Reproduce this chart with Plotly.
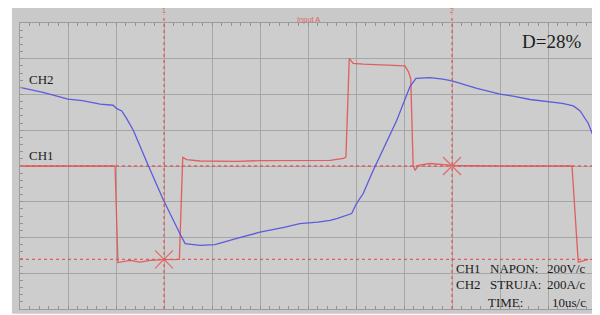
import plotly.graph_objects as go

# time in microseconds (10 us/div), amplitude in screen divisions
ch2_t = [0, 5, 10, 13, 16.7, 19.4, 20.1, 21.2, 22.2, 23.6, 26.7, 29.9, 33.3, 34.4, 37.5,
         40.6, 45, 50, 55, 58.3, 62, 64.6, 66, 68.1, 69.1, 70.1, 71.5, 73.6, 78.5, 81.25,
         82.5, 85.4, 88.1, 90, 95, 100, 103, 106.25, 110.4, 113, 115.3, 116.7, 118.4, 119.6]
ch2_v = [2.20, 2.05, 1.87, 1.83, 1.73, 1.70, 1.61, 1.54, 1.33, 1.00, 0.02, -0.96, -1.89, -2.17, -2.22,
         -2.20, -2.03, -1.85, -1.72, -1.61, -1.57, -1.52, -1.47, -1.38, -1.33, -1.05, -0.77, -0.12, 1.28, 2.22,
         2.45, 2.47, 2.43, 2.38, 2.18, 2.01, 1.95, 1.86, 1.80, 1.75, 1.68, 1.54, 1.19, 0.77]

ch1_t = [0, 19.8, 20.4, 21.9, 22.9, 25, 27.1, 30.2, 32.6, 33.2, 33.9, 34.7, 37.5, 45, 50, 58.3,
         64.6, 67.4, 67.9, 68.6, 69.4, 71.5, 78.5, 80.2, 80.9, 81.4, 81.9, 82.3, 83.0, 85.4, 90,
         100, 115.0, 116.3, 118.4]
ch1_v = [0, 0, -2.70, -2.66, -2.64, -2.69, -2.64, -2.62, -2.61, -2.61, 0.24, 0.18, 0.14, 0.13, 0.15, 0.16,
         0.16, 0.21, 0.25, 3.01, 2.87, 2.85, 2.82, 2.80, 2.64, 2.45, 0.02, -0.12, 0.02, 0.07, 0.02,
         0.0, 0.0, -2.69, -2.61]

cursor_t = [30, 90]
cursor_v = [-2.61, 0.0]
cursor_names = ["1", "2"]
trigger_t = [20.3]

RED = "rgba(228,85,85,0.92)"
RED_SOLID = "#e46a6a"
BLUE = "rgba(85,85,220,0.95)"
TXT = "#1c1c1c"
SERIF = "Liberation Serif"

fig = go.Figure()

# cursor level lines (horizontal) and time cursors (vertical)
for v in cursor_v:
    fig.add_trace(go.Scatter(x=[0, 120], y=[v, v], mode="lines",
                             line=dict(color=RED, width=1.3, dash="dot"),
                             hoverinfo="skip", showlegend=False))
for t in cursor_t:
    fig.add_shape(type="line", xref="x", yref="paper", x0=t, x1=t, y0=0, y1=1.03,
                  line=dict(color=RED, width=1.3, dash="dot"))

fig.add_trace(go.Scatter(x=ch1_t, y=ch1_v, mode="lines",
                         line=dict(color=RED, width=1.3), showlegend=False))
fig.add_trace(go.Scatter(x=ch2_t, y=ch2_v, mode="lines",
                         line=dict(color=BLUE, width=1.3), showlegend=False))

fig.add_trace(go.Scatter(x=cursor_t, y=cursor_v, mode="markers",
                         marker=dict(symbol="x-thin", size=18, color=RED_SOLID,
                                     line=dict(color=RED_SOLID, width=1.2)),
                         showlegend=False))
fig.add_trace(go.Scatter(x=cursor_t, y=[4.08, 4.08], mode="markers",
                         marker=dict(symbol="triangle-down", size=4, color=RED),
                         cliponaxis=False, showlegend=False))
fig.add_trace(go.Scatter(x=trigger_t, y=[-4.06], mode="markers",
                         marker=dict(symbol="square", size=3, color="#222"),
                         cliponaxis=False, showlegend=False))

# invisible trace on overlay axes used for fine border ticks
fig.add_trace(go.Scatter(x=[0], y=[0], xaxis="x2", yaxis="y2", mode="markers",
                         marker=dict(opacity=0), hoverinfo="skip", showlegend=False))

ann = [
    dict(text="CH2", x=0.012, y=0.804, xanchor="left", font=dict(size=13)),
    dict(text="CH1", x=0.012, y=0.537, xanchor="left", font=dict(size=13)),
    dict(text="D=28%", x=0.978, y=0.934, xanchor="right", font=dict(size=19)),
    dict(text="CH1", x=0.753, y=0.143, xanchor="left", font=dict(size=13)),
    dict(text="CH2", x=0.753, y=0.084, xanchor="left", font=dict(size=13)),
    dict(text="NAPON:", x=0.812, y=0.143, xanchor="left", font=dict(size=13)),
    dict(text="STRUJA:", x=0.812, y=0.084, xanchor="left", font=dict(size=13)),
    dict(text="TIME:", x=0.809, y=0.024, xanchor="left", font=dict(size=13)),
    dict(text="200V/c", x=0.986, y=0.143, xanchor="right", font=dict(size=13)),
    dict(text="200A/c", x=0.986, y=0.084, xanchor="right", font=dict(size=13)),
    dict(text="10us/c", x=0.986, y=0.024, xanchor="right", font=dict(size=13)),
]
for a in ann:
    a.update(xref="paper", yref="paper", showarrow=False, yanchor="middle")
    a["font"].update(family=SERIF, color=TXT)
    fig.add_annotation(**a)

fig.add_annotation(text="Input A", x=0.5, y=1.036, xref="paper", yref="paper",
                   showarrow=False, font=dict(family="Liberation Sans", size=7.5, color=RED))
for t, n in zip(cursor_t, cursor_names):
    fig.add_annotation(text=n, x=t, y=1.025, xref="x", yref="paper", showarrow=False,
                       yanchor="bottom", font=dict(family="Liberation Sans", size=7, color=RED))

# background panels
fig.add_shape(type="rect", xref="paper", yref="paper", x0=-0.014, x1=1.02, y0=-0.017, y1=1.08,
              fillcolor="#c9c9c9", line=dict(width=0), layer="below")
fig.add_shape(type="rect", xref="paper", yref="paper", x0=0, x1=1, y0=0, y1=1,
              fillcolor="#cdcdcd", line=dict(width=0), layer="below")

# page body has an 8px default margin, so the figure is sized to fit the window
fig.update_layout(
    width=592, height=307,
    margin=dict(l=12, r=4, t=15, b=6),
    paper_bgcolor="white", plot_bgcolor="rgba(0,0,0,0)",
    xaxis=dict(range=[0, 120], dtick=10, tick0=0, showgrid=True, gridcolor="#a6a6a6",
               gridwidth=1, zeroline=False, showticklabels=False, ticks="",
               showline=True, linecolor="#9c9c9c", linewidth=1, mirror=True),
    yaxis=dict(range=[-4, 4], dtick=1, tick0=0, showgrid=True, gridcolor="#a6a6a6",
               gridwidth=1, zeroline=False, showticklabels=False, ticks="",
               showline=True, linecolor="#9c9c9c", linewidth=1, mirror=True),
    xaxis2=dict(range=[0, 120], overlaying="x", dtick=2, tick0=0, ticks="inside", ticklen=3,
                tickcolor="#939393", showgrid=False, zeroline=False, showticklabels=False,
                mirror="ticks", showline=False),
    yaxis2=dict(range=[-4, 4], overlaying="y", dtick=0.2, tick0=0, ticks="inside", ticklen=3,
                tickcolor="#939393", showgrid=False, zeroline=False, showticklabels=False,
                mirror="ticks", showline=False),
)

fig.write_html("out.html")
